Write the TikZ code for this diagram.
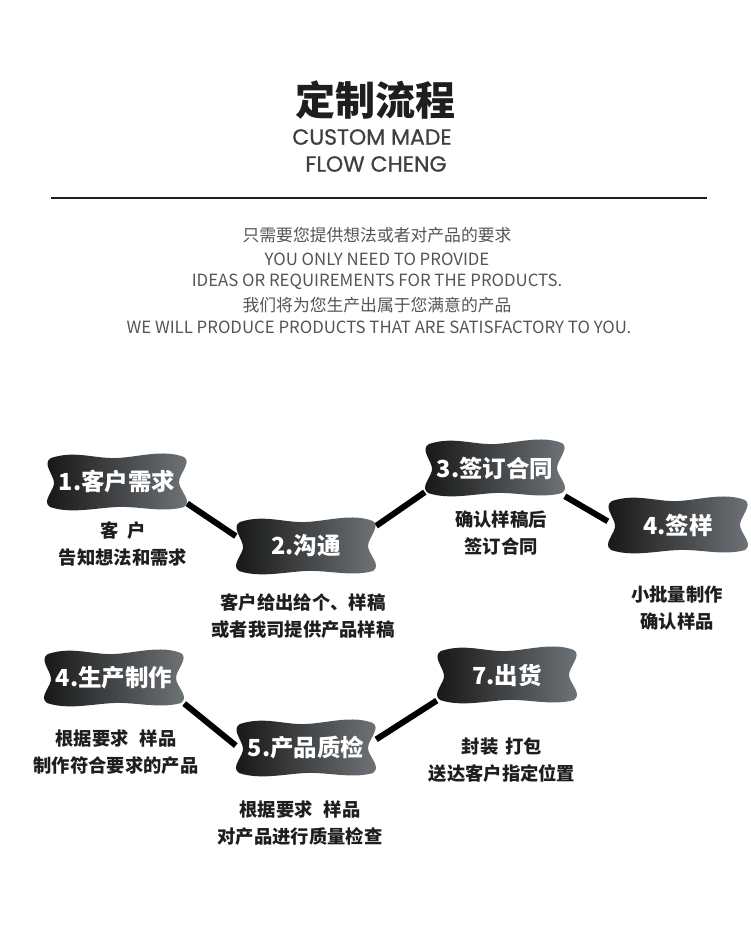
\documentclass[tikz,border=0pt]{standalone}
\usepackage{fontspec}
\setmainfont{Noto Sans CJK SC}
\newfontfamily\headlatin{Poppins}[FakeBold=0.7]
\usetikzlibrary{calc}
\pgfdeclarelayer{paper}
\pgfdeclarelayer{links}
\pgfdeclarelayer{blobs}
\pgfsetlayers{paper,links,blobs,main}
\definecolor{blobdark}{HTML}{141414}
\definecolor{bloblight}{HTML}{71767A}
\definecolor{introgray}{HTML}{555555}
\definecolor{inkdark}{HTML}{1E1E1E}

\begin{document}
\begin{tikzpicture}[x=1pt, y=-1pt,
 blob/.style={minimum width=140pt, minimum height=56pt, inner sep=0pt, text=white,
   font=\bfseries\fontsize{23.5}{23.5}\selectfont},
 blobshade/.style={left color=blobdark, right color=bloblight},
 note/.style={align=center, text=inkdark, font=\bfseries\fontsize{18.3}{27}\selectfont},
 intro/.style={text=introgray, inner sep=0pt, font=\fontsize{16.8}{16.8}\selectfont},
 head/.style={text=black!75, font=\headlatin\fontsize{22}{22}\selectfont},
 link/.style={line width=6pt}]

 % paper
 \begin{pgfonlayer}{paper}
  \fill[white] (0,0) rectangle (750,948);
 \end{pgfonlayer}
 \useasboundingbox (0,0) rectangle (750,948);

 % Titel
 \node[text=inkdark, font=\bfseries\fontsize{40}{40}\selectfont] (title) at (375,100) {定制流程};
 \node[head] (sub1) at (372,137) {CUSTOM MADE};
 \node[head] (sub2) at (376,164) {FLOW CHENG};
 \draw[line width=2pt, inkdark] (51,198) -- (707,198);

 % Einleitung
 \node[intro] (intro1) at (377,235) {只需要您提供想法或者对产品的要求};
 \node[intro] (intro2) at (377,259) {YOU ONLY NEED TO PROVIDE};
 \node[intro] (intro3) at (377,282) {IDEAS OR REQUIREMENTS FOR THE PRODUCTS.};
 \node[intro] (intro4) at (377,305) {我们将为您生产出属于您满意的产品};
 \node[intro] (intro5) at (379,327) {WE WILL PRODUCE PRODUCTS THAT ARE SATISFACTORY TO YOU.};

 % Schritte
 \node[blob] (s1) at (117,482) {1.客户需求};
 \node[blob] (s2) at (306,546) {2.沟通};
 \node[blob] (s3) at (495,468) {3.签订合同};
 \node[blob] (s4) at (678,525) {4.签样};
 \node[blob] (s5) at (114,678) {4.生产制作};
 \node[blob] (s6) at (306,748) {5.产品质检};
 \node[blob] (s7) at (507,675) {7.出货};

 % Wellenform hinter den Schritten
 \begin{pgfonlayer}{blobs}
  \foreach \s in {s1,s2,s3,s4,s5,s6,s7}
   \shade[blobshade, shift={(\s.center)}]
     (-66,-24) .. controls (-42,-32) and (-22,-23) .. (0,-24)
     .. controls (22,-25) and (46,-33) .. (67,-25)
     .. controls (75,-20) and (62,-8) .. (62,0)
     .. controls (62,8) and (76,19) .. (67,25)
     .. controls (46,31) and (22,24) .. (0,25)
     .. controls (-22,26) and (-46,32) .. (-67,25)
     .. controls (-76,19) and (-62,8) .. (-63,0)
     .. controls (-64,-8) and (-75,-19) .. cycle;
 \end{pgfonlayer}

 % Beschreibungen
 \node[note] (n1) at (123,544) {客\hspace{0.5em}户\\告知想法和需求};
 \node[note] (n2) at (303,616) {客户给出给个、样稿\\或者我司提供产品样稿};
 \node[note] (n3) at (501,533) {确认样稿后\\签订合同};
 \node[note] (n4) at (677,608) {小批量制作\\确认样品};
 \node[note] (n5) at (116,752) {根据要求\hspace{0.6em}样品\\制作符合要求的产品};
 \node[note] (n6) at (300,823) {根据要求\hspace{0.6em}样品\\对产品进行质量检查};
 \node[note] (n7) at (502,760) {封装\hspace{0.4em}打包\\送达客户指定位置};

 % Verbindungen
 \begin{pgfonlayer}{links}
  \draw[link] (s1.-17) -- (s2.172);
  \draw[link] (s2.16) -- (s3.199);
  \draw[link] (s3.-22) -- (s4.177);
  \draw[link] (s5.-20) -- (s6.178);
  \draw[link] (s6.7) -- (s7.200);
 \end{pgfonlayer}
\end{tikzpicture}
\end{document}
